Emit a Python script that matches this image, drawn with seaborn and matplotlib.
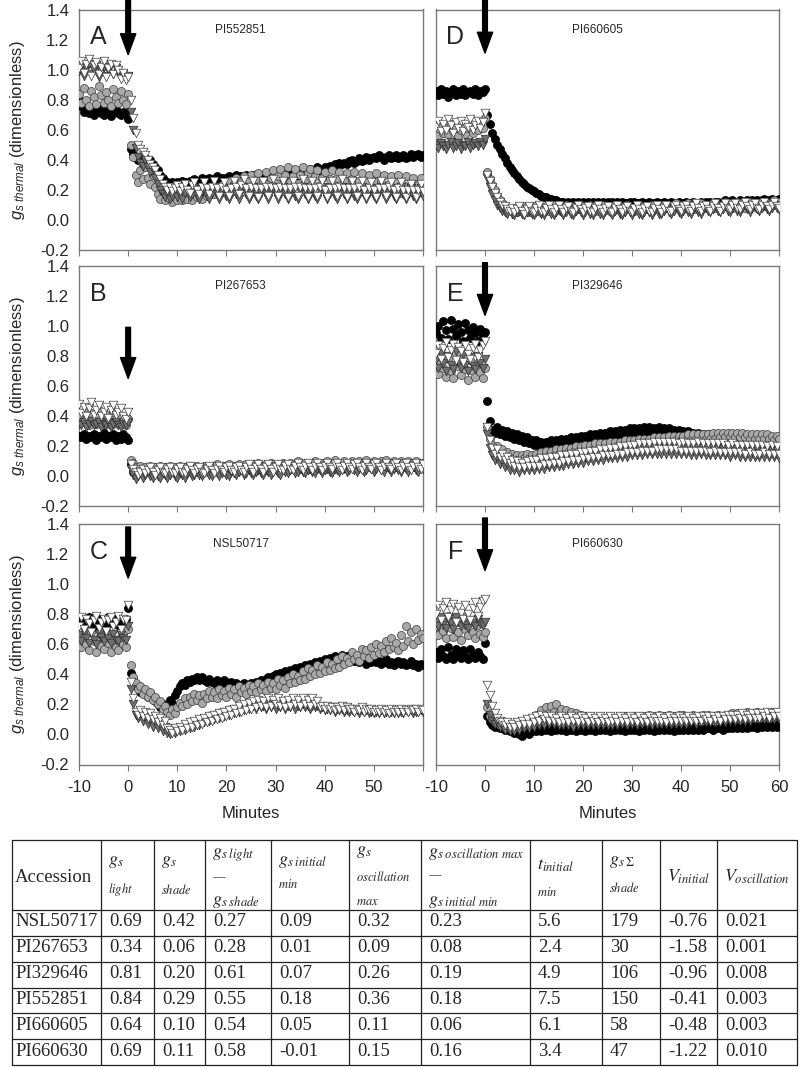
import numpy as np
import pandas as pd
import seaborn as sns
import matplotlib.pyplot as plt
from matplotlib import ticker

# Panels: A-C left column, D-F right column
LETTERS = ["A", "B", "C", "D", "E", "F"]
PANEL_ACC = ["PI552851", "PI267653", "NSL50717", "PI660605", "PI329646", "PI660630"]

# g_s thermal x100, read every 0.5 min from -10 to 60 min (shade at 0 min)
# black = black circles, gray = gray circles, dark = dark triangles, open = white triangles
A_BLACK = [80, 76, 72, 74, 71, 73, 70, 72, 74, 71,
           70, 73, 71, 69, 72, 74, 71, 70, 72, 71, 67,
           47, 44, 41, 40, 42, 39, 41, 38, 40, 37,
           35, 33, 30, 28, 26, 25, 24, 25, 24, 25,
           24, 26, 25, 24, 26, 25, 27, 25, 26, 28,
           26, 27, 28, 26, 27, 29, 27, 28, 27, 28,
           29, 27, 28, 30, 28, 29, 28, 30, 28, 29,
           30, 28, 29, 30, 29, 28, 30, 29, 28, 30,
           29, 31, 30, 29, 31, 30, 32, 31, 30, 32,
           33, 31, 32, 34, 32, 33, 35, 33, 34, 35,
           34, 36, 35, 37, 36, 38, 37, 38, 37, 39,
           40, 38, 39, 41, 39, 40, 42, 40, 41, 42,
           41, 43, 42, 40, 42, 43, 41, 42, 43, 41,
           42, 43, 41, 42, 44, 42, 43, 44, 42, 43]
A_GRAY = [84, 78, 88, 80, 76, 86, 82, 77, 89, 83,
          78, 85, 80, 76, 87, 82, 78, 86, 80, 77, 84,
          50, 42, 30, 25, 33, 27, 35, 28, 24, 30,
          22, 17, 14, 19, 13, 18, 14, 12, 17, 13,
          16, 13, 18, 14, 17, 13, 19, 15, 18, 14,
          20, 16, 19, 22, 17, 21, 18, 23, 19, 22,
          26, 20, 24, 28, 21, 25, 29, 22, 26, 30,
          23, 27, 31, 22, 26, 32, 24, 28, 33, 25,
          29, 34, 24, 30, 35, 25, 29, 34, 24, 30,
          35, 25, 31, 34, 24, 29, 33, 23, 28, 32,
          22, 27, 33, 23, 28, 32, 21, 26, 31, 22,
          27, 32, 21, 26, 31, 20, 25, 30, 21, 26,
          31, 20, 25, 30, 19, 24, 29, 19, 25, 30,
          18, 23, 29, 19, 24, 28, 17, 23, 28, 18]
A_DARK = [99, 103, 96, 101, 104, 97, 100, 103, 95, 99,
          102, 96, 100, 103, 97, 101, 98, 95, 97, 94, 96,
          72, 60, 48, 42, 38, 36, 40, 35, 32, 34,
          28, 24, 20, 17, 15, 18, 14, 16, 19, 15,
          17, 14, 18, 20, 15, 17, 21, 16, 14, 19,
          21, 16, 14, 18, 22, 17, 14, 18, 21, 16,
          14, 18, 22, 17, 14, 19, 22, 17, 14, 18,
          22, 16, 14, 18, 21, 17, 14, 19, 22, 17,
          14, 18, 22, 17, 14, 18, 21, 16, 14, 19,
          22, 17, 14, 18, 21, 16, 14, 19, 22, 17,
          14, 18, 21, 16, 14, 19, 22, 17, 14, 18,
          21, 16, 14, 18, 22, 17, 14, 18, 21, 16,
          14, 19, 22, 17, 14, 18, 21, 16, 14, 18,
          22, 17, 14, 18, 21, 16, 14, 18, 21, 16]
A_OPEN = [101, 106, 98, 104, 107, 96, 103, 105, 97, 102,
          106, 95, 101, 104, 97, 103, 100, 94, 98, 93, 95,
          80, 68, 58, 50, 47, 45, 43, 40, 37, 35,
          33, 30, 27, 24, 22, 20, 22, 19, 21, 23,
          19, 22, 24, 20, 18, 23, 25, 20, 17, 22,
          25, 21, 17, 22, 26, 21, 16, 22, 25, 20,
          16, 21, 26, 22, 17, 23, 27, 21, 16, 22,
          26, 21, 15, 21, 26, 22, 16, 22, 27, 21,
          16, 22, 26, 21, 15, 21, 26, 22, 16, 22,
          27, 21, 15, 21, 26, 21, 16, 22, 26, 20,
          15, 21, 26, 21, 16, 22, 27, 21, 15, 21,
          26, 21, 16, 22, 26, 20, 15, 21, 25, 20,
          15, 21, 26, 21, 16, 22, 25, 20, 15, 21,
          25, 20, 15, 20, 24, 20, 15, 20, 24, 19]

B_BLACK = [27, 26, 28, 25, 27, 26, 28, 24, 27, 26,
           29, 25, 27, 26, 28, 24, 27, 25, 28, 26, 24,
           8, 3, 1, 2, 4, 2, 3, 5, 3, 2,
           4, 3, 5, 3, 4, 6, 4, 3, 5, 4,
           5, 3, 4, 6, 4, 5, 3, 5, 6, 4,
           5, 4, 6, 4, 5, 6, 4, 5, 6, 4,
           5, 6, 4, 6, 5, 4, 6, 5, 7, 5,
           6, 4, 6, 7, 5, 6, 4, 6, 7, 5,
           6, 5, 7, 5, 6, 7, 5, 6, 7, 5,
           6, 7, 5, 7, 6, 5, 7, 6, 8, 6,
           7, 5, 7, 8, 6, 7, 5, 7, 8, 6,
           7, 6, 8, 6, 7, 8, 6, 7, 8, 6,
           7, 8, 6, 8, 7, 6, 8, 7, 8, 6,
           7, 8, 6, 7, 8, 6, 7, 8, 6, 7]
B_GRAY = [40, 36, 43, 38, 34, 42, 37, 35, 44, 39,
          36, 41, 37, 34, 43, 38, 35, 40, 37, 34, 38,
          11, 9, 6, 4, 7, 5, 6, 4, 7, 5,
          6, 4, 7, 5, 6, 4, 7, 5, 6, 5,
          7, 5, 6, 4, 7, 6, 5, 7, 6, 5,
          7, 6, 5, 7, 6, 8, 6, 5, 7, 6,
          8, 6, 7, 5, 8, 7, 6, 8, 7, 6,
          8, 7, 9, 7, 6, 8, 7, 9, 7, 6,
          8, 7, 9, 8, 6, 9, 7, 8, 10, 7,
          8, 9, 7, 9, 8, 10, 8, 7, 9, 8,
          10, 8, 9, 11, 8, 9, 8, 10, 9, 8,
          10, 8, 9, 10, 8, 9, 11, 9, 8, 10,
          9, 8, 10, 9, 11, 9, 8, 10, 9, 8,
          10, 9, 8, 10, 9, 8, 10, 9, 8, 9]
B_DARK = [35, 34, 36, 33, 35, 37, 34, 35, 36, 33,
          35, 34, 36, 33, 35, 36, 34, 33, 35, 34, 36,
          5, 1, -2, 0, 2, -1, 1, 3, 0, -1,
          2, 0, -1, 2, 1, -1, 1, 3, 0, -1,
          2, 1, -1, 2, 3, 0, 1, 3, 1, 0,
          2, 3, 1, 0, 3, 2, 0, 2, 3, 1,
          0, 3, 2, 1, 3, 4, 1, 2, 4, 2,
          1, 3, 4, 2, 1, 4, 3, 1, 3, 4,
          2, 1, 4, 3, 2, 4, 5, 2, 3, 5,
          3, 2, 4, 5, 3, 2, 5, 4, 2, 4,
          5, 3, 2, 5, 4, 3, 5, 6, 3, 4,
          6, 4, 3, 5, 6, 3, 4, 6, 5, 3,
          5, 6, 4, 3, 6, 5, 3, 5, 6, 4,
          3, 6, 5, 3, 5, 6, 4, 3, 6, 5]
B_OPEN = [48, 42, 46, 40, 45, 49, 41, 44, 47, 40,
          43, 46, 39, 44, 47, 41, 43, 45, 40, 38, 43,
          8, 5, 3, 1, 3, 5, 2, 4, 6, 3,
          1, 4, 6, 3, 2, 5, 6, 3, 2, 5,
          6, 3, 2, 5, 7, 4, 2, 5, 6, 3,
          2, 5, 7, 4, 2, 5, 7, 4, 3, 6,
          7, 4, 3, 6, 7, 4, 3, 6, 8, 5,
          3, 6, 8, 5, 3, 6, 8, 5, 3, 6,
          8, 5, 4, 7, 8, 5, 4, 7, 9, 6,
          4, 7, 9, 6, 4, 7, 9, 6, 4, 7,
          9, 6, 5, 8, 9, 6, 4, 7, 9, 6,
          5, 8, 9, 6, 4, 7, 9, 6, 5, 8,
          9, 6, 4, 7, 9, 6, 5, 8, 9, 6,
          4, 7, 9, 6, 4, 7, 9, 6, 5, 8]

C_BLACK = [75, 77, 73, 76, 78, 74, 76, 72, 77, 75,
           73, 76, 78, 74, 75, 77, 73, 76, 75, 77, 84,
           41, 37, 33, 31, 28, 30, 27, 25, 27, 24,
           22, 20, 18, 20, 17, 19, 23, 21, 26, 29,
           32, 34, 33, 36, 35, 37, 36, 38, 36, 38,
           36, 35, 37, 35, 34, 36, 35, 34, 36, 35,
           34, 35, 33, 34, 32, 33, 34, 33, 32, 34,
           33, 35, 34, 36, 35, 37, 38, 37, 39, 40,
           39, 41, 40, 42, 41, 43, 42, 44, 43, 45,
           44, 46, 45, 47, 46, 48, 47, 49, 48, 50,
           49, 51, 50, 52, 50, 51, 53, 51, 52, 50,
           51, 49, 50, 48, 50, 49, 47, 49, 48, 50,
           48, 49, 47, 48, 50, 47, 48, 46, 48, 49,
           47, 48, 46, 47, 49, 46, 47, 45, 47, 46]
C_GRAY = [63, 58, 66, 60, 56, 68, 62, 55, 64, 59,
          57, 67, 61, 55, 63, 58, 56, 65, 60, 58, 70,
          46, 38, 34, 30, 32, 27, 30, 25, 28, 23,
          25, 20, 22, 17, 19, 15, 13, 17, 14, 18,
          21, 19, 24, 20, 25, 22, 27, 23, 26, 21,
          27, 24, 29, 25, 28, 24, 30, 26, 29, 25,
          31, 27, 30, 25, 32, 28, 31, 27, 33, 29,
          32, 28, 34, 30, 33, 29, 35, 31, 34, 30,
          37, 33, 36, 31, 38, 34, 40, 35, 39, 36,
          42, 37, 44, 39, 43, 40, 46, 41, 45, 42,
          48, 43, 47, 44, 50, 45, 52, 47, 51, 48,
          55, 50, 53, 49, 57, 52, 56, 51, 58, 53,
          60, 54, 59, 55, 62, 57, 64, 58, 61, 56,
          66, 59, 72, 62, 68, 60, 70, 63, 67, 64]
C_DARK = [66, 62, 69, 64, 61, 68, 63, 60, 67, 65,
          62, 68, 64, 61, 67, 63, 62, 66, 64, 63, 72,
          30, 20, 13, 11, 14, 9, 12, 7, 10, 5,
          8, 4, 6, 2, 5, 1, 0, 2, 1, 3,
          2, 4, 3, 6, 4, 7, 5, 8, 6, 9,
          8, 10, 9, 12, 10, 13, 11, 14, 12, 15,
          13, 16, 14, 17, 15, 18, 16, 19, 17, 18,
          19, 17, 20, 18, 19, 17, 20, 18, 20, 17,
          19, 18, 20, 17, 19, 18, 20, 17, 19, 18,
          20, 18, 19, 17, 19, 18, 19, 17, 18, 16,
          17, 16, 18, 15, 17, 16, 17, 15, 16, 15,
          16, 15, 16, 14, 16, 15, 16, 14, 15, 14,
          15, 14, 16, 14, 15, 14, 15, 14, 16, 14,
          15, 14, 16, 15, 16, 14, 15, 15, 16, 15]
C_OPEN = [72, 78, 70, 77, 74, 68, 76, 79, 71, 75,
          77, 69, 76, 78, 72, 75, 79, 70, 77, 76, 86,
          35, 24, 15, 13, 16, 12, 15, 11, 14, 10,
          12, 8, 11, 6, 9, 4, 3, 1, 4, 2,
          5, 3, 7, 4, 8, 5, 9, 6, 10, 7,
          11, 8, 12, 9, 13, 10, 14, 11, 15, 12,
          16, 13, 17, 14, 19, 15, 20, 16, 21, 17,
          22, 18, 23, 19, 22, 18, 24, 19, 23, 20,
          24, 19, 22, 18, 23, 19, 24, 20, 23, 19,
          24, 20, 23, 19, 24, 20, 22, 18, 19, 17,
          19, 17, 18, 16, 18, 17, 19, 16, 18, 17,
          17, 15, 17, 16, 18, 15, 17, 16, 17, 15,
          16, 15, 17, 15, 16, 14, 17, 15, 16, 15,
          17, 15, 16, 15, 17, 16, 17, 15, 17, 16]

D_BLACK = [86, 83, 87, 84, 86, 82, 85, 87, 83, 86,
           84, 87, 83, 85, 86, 84, 87, 83, 86, 85, 87,
           70, 64, 58, 54, 50, 47, 44, 41, 38, 35,
           33, 31, 29, 27, 25, 24, 22, 21, 20, 19,
           18, 17, 16, 15, 15, 14, 14, 13, 13, 12,
           12, 12, 11, 12, 11, 12, 11, 12, 11, 12,
           11, 12, 11, 12, 11, 12, 11, 12, 11, 12,
           11, 12, 11, 12, 11, 12, 11, 11, 12, 11,
           12, 11, 11, 12, 10, 11, 12, 10, 11, 12,
           10, 11, 12, 10, 11, 12, 10, 11, 12, 10,
           11, 12, 10, 11, 12, 10, 11, 12, 11, 12,
           11, 12, 11, 12, 12, 11, 12, 13, 11, 12,
           13, 12, 11, 13, 12, 11, 13, 12, 13, 12,
           13, 12, 13, 14, 12, 13, 14, 12, 13, 14]
D_GRAY = [60, 56, 63, 58, 61, 57, 64, 59, 62, 56,
          60, 63, 57, 61, 64, 58, 62, 60, 65, 61, 68,
          32, 27, 23, 20, 16, 13, 11, 9, 8, 7,
          6, 8, 5, 7, 9, 6, 8, 5, 7, 9,
          6, 8, 5, 7, 9, 6, 8, 10, 7, 9,
          6, 8, 10, 7, 9, 6, 8, 10, 7, 9,
          7, 9, 10, 7, 9, 6, 8, 10, 7, 9,
          6, 8, 10, 7, 9, 7, 9, 10, 7, 8,
          6, 9, 10, 7, 9, 7, 8, 10, 7, 9,
          7, 9, 10, 8, 9, 7, 9, 11, 8, 10,
          7, 9, 11, 8, 10, 7, 9, 11, 8, 10,
          8, 10, 11, 8, 10, 8, 10, 12, 9, 11,
          8, 10, 12, 9, 11, 8, 10, 12, 9, 11,
          8, 10, 12, 9, 11, 9, 11, 13, 10, 12]
D_DARK = [50, 48, 51, 49, 47, 50, 52, 48, 49, 51,
          47, 50, 49, 52, 48, 50, 51, 49, 52, 50, 54,
          28, 22, 17, 13, 10, 8, 6, 5, 4, 6,
          4, 3, 5, 6, 4, 3, 5, 6, 4, 3,
          5, 7, 4, 3, 6, 7, 4, 3, 5, 7,
          5, 3, 5, 7, 4, 3, 6, 7, 5, 3,
          5, 7, 4, 3, 6, 7, 4, 3, 6, 7,
          5, 3, 6, 7, 4, 3, 5, 7, 5, 3,
          6, 7, 4, 3, 5, 7, 5, 3, 6, 7,
          4, 4, 6, 8, 5, 4, 6, 8, 5, 4,
          6, 8, 5, 4, 7, 8, 5, 4, 7, 8,
          6, 5, 7, 9, 6, 5, 7, 9, 6, 5,
          8, 9, 6, 5, 8, 10, 7, 5, 8, 9,
          7, 6, 8, 10, 7, 6, 8, 10, 8, 7]
D_OPEN = [62, 66, 59, 64, 60, 67, 63, 58, 65, 61,
          66, 59, 64, 62, 67, 60, 63, 66, 61, 65, 71,
          30, 26, 22, 18, 15, 12, 10, 9, 7, 6,
          8, 5, 7, 9, 6, 4, 7, 9, 6, 5,
          8, 10, 6, 5, 8, 10, 7, 5, 8, 10,
          7, 5, 8, 9, 6, 5, 8, 10, 7, 5,
          8, 9, 6, 5, 8, 10, 7, 5, 8, 9,
          6, 5, 8, 10, 7, 5, 8, 9, 6, 5,
          8, 10, 7, 5, 8, 9, 6, 5, 8, 10,
          7, 5, 8, 10, 6, 6, 9, 10, 7, 6,
          9, 10, 7, 6, 9, 11, 8, 6, 9, 10,
          7, 6, 9, 11, 8, 6, 9, 11, 8, 7,
          10, 11, 8, 7, 10, 12, 9, 7, 10, 11,
          8, 7, 10, 12, 9, 7, 10, 12, 9, 8]

E_BLACK = [95, 100, 92, 103, 97, 91, 104, 98, 93, 101,
           96, 90, 102, 97, 92, 99, 95, 90, 98, 94, 96,
           50, 37, 31, 29, 33, 28, 31, 27, 30, 26,
           29, 25, 28, 24, 27, 23, 26, 22, 24, 21,
           24, 20, 23, 19, 23, 20, 24, 20, 24, 21,
           25, 21, 25, 22, 26, 22, 26, 23, 27, 23,
           27, 24, 28, 24, 28, 25, 29, 25, 29, 26,
           30, 26, 30, 27, 31, 27, 31, 27, 32, 28,
           32, 28, 32, 28, 33, 29, 33, 29, 32, 28,
           33, 28, 32, 28, 32, 27, 31, 27, 31, 26,
           30, 26, 30, 25, 29, 25, 29, 24, 28, 24,
           28, 23, 27, 23, 27, 22, 26, 22, 26, 21,
           25, 21, 25, 20, 24, 20, 24, 20, 23, 19,
           23, 19, 23, 19, 22, 18, 22, 19, 22, 18]
E_GRAY = [75, 68, 80, 72, 66, 78, 70, 65, 82, 73,
          67, 79, 71, 64, 77, 70, 66, 75, 69, 65, 72,
          33, 25, 21, 18, 20, 16, 18, 14, 16, 13,
          15, 12, 14, 11, 14, 12, 15, 12, 14, 12,
          15, 13, 16, 13, 17, 14, 17, 14, 18, 15,
          18, 15, 19, 16, 19, 16, 20, 17, 20, 17,
          21, 17, 21, 18, 22, 18, 22, 19, 22, 19,
          23, 19, 23, 20, 23, 20, 24, 20, 24, 21,
          24, 21, 25, 21, 25, 22, 25, 22, 26, 22,
          26, 23, 26, 23, 27, 23, 27, 24, 27, 24,
          27, 24, 28, 24, 28, 25, 28, 25, 28, 25,
          28, 25, 29, 25, 29, 26, 29, 26, 29, 26,
          29, 26, 29, 26, 29, 26, 28, 25, 28, 25,
          28, 25, 28, 25, 28, 25, 27, 24, 27, 25]
E_DARK = [78, 72, 82, 75, 70, 80, 74, 71, 83, 76,
          72, 81, 74, 70, 79, 73, 71, 80, 75, 72, 78,
          28, 19, 14, 11, 13, 8, 10, 6, 8, 4,
          7, 4, 6, 3, 7, 4, 8, 4, 7, 4,
          8, 5, 9, 5, 9, 6, 10, 6, 10, 7,
          11, 7, 11, 8, 12, 8, 12, 9, 13, 9,
          13, 10, 14, 10, 14, 11, 15, 11, 15, 12,
          16, 12, 16, 12, 17, 13, 17, 13, 18, 14,
          18, 14, 18, 14, 19, 15, 19, 15, 19, 15,
          19, 15, 20, 15, 20, 15, 19, 15, 19, 15,
          19, 15, 19, 14, 19, 14, 19, 15, 19, 14,
          19, 14, 19, 14, 18, 14, 18, 14, 18, 13,
          18, 14, 18, 13, 18, 13, 18, 13, 17, 13,
          18, 13, 17, 13, 17, 13, 17, 13, 17, 12]
E_OPEN = [82, 87, 78, 85, 89, 79, 84, 88, 77, 86,
          83, 76, 87, 81, 78, 85, 88, 79, 84, 87, 90,
          33, 24, 19, 15, 18, 13, 15, 11, 13, 9,
          11, 7, 10, 6, 9, 6, 10, 7, 11, 7,
          11, 7, 12, 8, 12, 8, 13, 9, 13, 9,
          14, 10, 14, 10, 15, 11, 15, 11, 16, 12,
          16, 12, 17, 13, 17, 13, 18, 14, 18, 14,
          19, 14, 19, 15, 20, 15, 20, 16, 21, 16,
          21, 16, 22, 17, 22, 17, 22, 17, 23, 18,
          23, 18, 23, 18, 23, 18, 23, 18, 22, 17,
          23, 17, 22, 17, 22, 17, 23, 17, 22, 17,
          22, 16, 22, 17, 22, 16, 22, 16, 21, 16,
          22, 16, 21, 16, 21, 15, 21, 16, 21, 15,
          21, 15, 21, 16, 20, 15, 21, 15, 20, 15]

F_BLACK = [55, 51, 57, 52, 50, 58, 53, 50, 57, 54,
           51, 56, 52, 50, 57, 53, 51, 55, 52, 50, 61,
           12, 8, 6, 5, 7, 4, 5, 3, 4, 2,
           3, 1, 2, 0, -1, 1, 2, 0, 2, 4,
           2, 4, 2, 5, 3, 5, 2, 4, 3, 5,
           3, 5, 2, 4, 3, 5, 2, 4, 3, 5,
           2, 4, 3, 5, 2, 4, 3, 5, 3, 5,
           2, 4, 3, 5, 3, 5, 2, 4, 3, 5,
           3, 5, 2, 4, 3, 5, 3, 5, 2, 4,
           3, 5, 3, 5, 3, 5, 2, 4, 3, 5,
           3, 5, 3, 6, 3, 5, 3, 5, 3, 6,
           4, 6, 3, 5, 4, 6, 3, 5, 4, 6,
           4, 7, 4, 6, 4, 7, 4, 6, 5, 7,
           4, 7, 5, 7, 5, 8, 5, 7, 5, 7]
F_GRAY = [72, 66, 77, 69, 64, 79, 71, 65, 76, 68,
          63, 78, 70, 66, 75, 68, 64, 73, 67, 65, 68,
          18, 12, 10, 8, 9, 6, 8, 5, 7, 4,
          6, 4, 7, 5, 8, 6, 9, 7, 10, 8,
          13, 10, 16, 12, 18, 14, 19, 15, 20, 14,
          17, 12, 16, 11, 15, 10, 14, 9, 13, 9,
          12, 8, 12, 8, 11, 8, 12, 8, 11, 8,
          12, 8, 11, 8, 12, 9, 12, 8, 11, 9,
          12, 9, 12, 8, 12, 9, 13, 9, 12, 9,
          13, 9, 12, 9, 13, 9, 12, 9, 13, 10,
          13, 9, 12, 10, 13, 10, 12, 9, 13, 10,
          13, 10, 12, 9, 13, 10, 12, 10, 13, 11,
          14, 11, 14, 10, 14, 11, 15, 11, 14, 11,
          15, 11, 14, 12, 15, 11, 15, 12, 15, 12]
F_DARK = [75, 72, 78, 73, 71, 77, 74, 70, 78, 75,
          72, 77, 73, 71, 76, 74, 72, 77, 74, 73, 75,
          20, 13, 9, 7, 8, 5, 6, 3, 5, 2,
          4, 2, 5, 3, 6, 4, 6, 4, 7, 5,
          8, 6, 9, 6, 10, 7, 10, 7, 9, 6,
          9, 6, 9, 6, 8, 5, 8, 6, 9, 6,
          8, 6, 9, 6, 8, 6, 9, 6, 8, 6,
          9, 6, 8, 6, 9, 7, 8, 6, 9, 7,
          9, 6, 9, 7, 9, 7, 9, 6, 9, 7,
          9, 7, 10, 7, 9, 7, 10, 7, 9, 7,
          10, 7, 10, 8, 10, 7, 10, 8, 10, 8,
          10, 8, 11, 8, 10, 8, 11, 8, 11, 9,
          11, 9, 12, 9, 12, 9, 12, 9, 12, 10,
          12, 10, 13, 10, 12, 10, 13, 10, 12, 10]
F_OPEN = [80, 86, 76, 84, 88, 78, 83, 87, 75, 85,
          81, 77, 86, 80, 76, 84, 88, 79, 85, 89, 90,
          33, 26, 19, 14, 11, 9, 8, 6, 8, 5,
          7, 5, 8, 6, 9, 7, 10, 7, 11, 8,
          12, 9, 13, 10, 12, 9, 12, 9, 11, 8,
          12, 9, 11, 8, 12, 9, 11, 8, 12, 9,
          11, 8, 12, 9, 11, 8, 12, 9, 11, 8,
          12, 9, 11, 8, 12, 9, 11, 8, 12, 9,
          11, 8, 12, 9, 11, 8, 12, 9, 11, 9,
          12, 9, 11, 8, 12, 9, 11, 9, 12, 9,
          11, 9, 12, 9, 11, 9, 12, 9, 12, 10,
          12, 9, 12, 10, 12, 9, 12, 10, 13, 10,
          13, 10, 13, 11, 14, 10, 13, 11, 14, 11,
          14, 11, 14, 12, 15, 11, 14, 12, 15, 12]

# shade arrow at 0 min: start and tip (g_s units)
ARROW_TOP = [1.46, 0.99, 1.38, 1.46, 1.42, 1.44]
ARROW_TIP = [1.10, 0.65, 1.04, 1.11, 1.07, 1.09]

# table values
ACCESSIONS = ["NSL50717", "PI267653", "PI329646", "PI552851", "PI660605", "PI660630"]
GS_LIGHT = [0.69, 0.34, 0.81, 0.84, 0.64, 0.69]
GS_SHADE = [0.42, 0.06, 0.20, 0.29, 0.10, 0.11]
GS_LIGHT_MINUS_SHADE = [0.27, 0.28, 0.61, 0.55, 0.54, 0.58]
GS_INITIAL_MIN = [0.09, 0.01, 0.07, 0.18, 0.05, -0.01]
GS_OSC_MAX = [0.32, 0.09, 0.26, 0.36, 0.11, 0.15]
GS_OSC_MINUS_INIT = [0.23, 0.08, 0.19, 0.18, 0.06, 0.16]
T_INITIAL_MIN = [5.6, 2.4, 4.9, 7.5, 6.1, 3.4]
GS_SUM_SHADE = [179, 30, 106, 150, 58, 47]
V_INITIAL = [-0.76, -1.58, -0.96, -0.41, -0.48, -1.22]
V_OSCILLATION = [0.021, 0.001, 0.008, 0.003, 0.003, 0.010]

PANEL_SERIES = {
    "A": {"black": A_BLACK, "gray": A_GRAY, "dark": A_DARK, "open": A_OPEN},
    "B": {"black": B_BLACK, "gray": B_GRAY, "dark": B_DARK, "open": B_OPEN},
    "C": {"black": C_BLACK, "gray": C_GRAY, "dark": C_DARK, "open": C_OPEN},
    "D": {"black": D_BLACK, "gray": D_GRAY, "dark": D_DARK, "open": D_OPEN},
    "E": {"black": E_BLACK, "gray": E_GRAY, "dark": E_DARK, "open": E_OPEN},
    "F": {"black": F_BLACK, "gray": F_GRAY, "dark": F_DARK, "open": F_OPEN},
}

STYLES = {
    "black": dict(marker="o", color="black", edgecolor="black", s=34, linewidth=0.5),
    "gray": dict(marker="o", color="#a8a8a8", edgecolor="#3c3c3c", s=34, linewidth=0.5),
    "dark": dict(marker="v", color="#707070", edgecolor="#2a2a2a", s=38, linewidth=0.5),
    "open": dict(marker="v", color="white", edgecolor="#3c3c3c", s=38, linewidth=0.5),
}

rows = []
for letter, series in PANEL_SERIES.items():
    for name, vals in series.items():
        minutes = -10 + 0.5 * np.arange(len(vals))
        rows.append(pd.DataFrame({"panel": letter, "series": name,
                                  "minutes": minutes, "gs": np.array(vals) / 100}))
df = pd.concat(rows, ignore_index=True)

sns.set_theme(style="white")
plt.rcParams["font.family"] = ["Liberation Sans", "DejaVu Sans"]
plt.rcParams["axes.unicode_minus"] = False
plt.rcParams["mathtext.fontset"] = "custom"
plt.rcParams["mathtext.rm"] = "Liberation Sans"
plt.rcParams["mathtext.it"] = "Liberation Sans:italic"

W, H = 800, 1067
fig = plt.figure(figsize=(W / 100, H / 100), dpi=100)

col_left = [79, 436]
col_width = [344, 343]
row_top = [9.5, 265.7, 524]
ax_h = 240.5
spine_col = "#7a7a7a"

for i, letter in enumerate(LETTERS):
    col, row = divmod(i, 3)
    ax = fig.add_axes([col_left[col] / W, 1 - (row_top[row] + ax_h) / H,
                       col_width[col] / W, ax_h / H])
    sub = df[df["panel"] == letter]
    for name in ["black", "gray", "dark", "open"]:
        sns.scatterplot(data=sub[sub["series"] == name], x="minutes", y="gs",
                        ax=ax, legend=False, zorder=3, **STYLES[name])

    ax.set_xlim(-10, 60)
    ax.set_ylim(-0.2, 1.4)
    ax.set_xticks(range(-10, 61, 10))
    ax.set_yticks(np.arange(-0.2, 1.41, 0.2))
    for sp in ax.spines.values():
        sp.set_color(spine_col)
        sp.set_linewidth(1.0)
    ax.tick_params(axis="x", direction="out", length=4, width=0.8, color=spine_col,
                   labelsize=12, pad=7, bottom=True)
    ax.tick_params(axis="y", length=0, labelsize=12, pad=7)
    ax.yaxis.set_major_formatter(ticker.FuncFormatter(lambda v, p: f"{v:.1f}"))

    if row == 2:
        last = 60 if col == 1 else 50
        ax.xaxis.set_major_formatter(ticker.FuncFormatter(
            lambda v, p, last=last: f"{v:.0f}" if v <= last else ""))
        ax.set_xlabel("Minutes", fontsize=12, labelpad=8)
    else:
        ax.tick_params(axis="x", labelbottom=False)
        ax.set_xlabel("")

    if col == 0:
        ax.set_ylabel(r"$g_{s\ thermal}$ (dimensionless)", fontsize=12)
        ax.yaxis.set_label_coords(-0.152, 0.5)
    else:
        ax.tick_params(axis="y", labelleft=False)
        ax.set_ylabel("")

    ax.text(0.056, 0.884, letter, transform=ax.transAxes, fontsize=18,
            ha="center", va="center")
    ax.text(0.47, 0.915, PANEL_ACC[i], transform=ax.transAxes, fontsize=8.5,
            ha="center", va="center")
    ax.annotate("", xy=(0, ARROW_TIP[i]), xytext=(0, ARROW_TOP[i]),
                arrowprops=dict(facecolor="black", edgecolor="black", width=3.4,
                                headwidth=11, headlength=15, shrink=0),
                annotation_clip=False, zorder=5)

# ---- table ----
x0, x1, y0, y1 = 12, 797, 840, 1065
tab = fig.add_axes([x0 / W, 1 - y1 / H, (x1 - x0) / W, (y1 - y0) / H])
tab.set_xlim(x0, x1)
tab.set_ylim(y1, y0)
tab.set_axis_off()

col_edges = [12, 101, 154, 205, 271, 349, 421, 530, 602, 660, 717, 797]
header_bottom = 910
row_h = (y1 - header_bottom) / len(ACCESSIONS)
row_edges = [y0, header_bottom] + [header_bottom + row_h * (k + 1) for k in range(len(ACCESSIONS))]

for xe in col_edges:
    tab.plot([xe, xe], [y0, y1], color="#222222", lw=0.9, clip_on=False)
for ye in row_edges:
    tab.plot([x0, x1], [ye, ye], color="#222222", lw=0.9, clip_on=False)

serif = ["Liberation Serif", "DejaVu Serif"]
big, small = 13, 9
# header lines per column: (text, y, size)
headers = [
    [("Accession", 877, 13.5)],
    [(r"$g_s$", 862, big), (r"$light$", 890, small)],
    [(r"$g_s$", 862, big), (r"$shade$", 890, small)],
    [(r"$g_{s\ light}$", 855, big), ("—", 877, small), (r"$g_{s\ shade}$", 901, big)],
    [(r"$g_{s\ initial}$", 862, big), (r"$min$", 884, small)],
    [(r"$g_s$", 852, big), (r"$oscillation$", 877, small), (r"$max$", 902, small)],
    [(r"$g_{s\ oscillation\ max}$", 853, big), ("—", 875, small),
     (r"$g_{s\ initial\ min}$", 901, big)],
    [(r"$t_{initial}$", 866, big), (r"$min$", 892, small)],
    [(r"$g_{s\ \Sigma}$", 862, big), (r"$shade$", 888, small)],
    [(r"$V_{initial}$", 877, big)],
    [(r"$V_{oscillation}$", 877, big)],
]
for c, lines in enumerate(headers):
    pad = 3 if c == 0 else 7
    for text, yy, size in lines:
        tab.text(col_edges[c] + pad, yy, text, fontsize=size, family=serif,
                 math_fontfamily="stix", ha="left", va="center")

columns = [
    (ACCESSIONS, "{}"), (GS_LIGHT, "{:.2f}"), (GS_SHADE, "{:.2f}"),
    (GS_LIGHT_MINUS_SHADE, "{:.2f}"), (GS_INITIAL_MIN, "{:.2f}"), (GS_OSC_MAX, "{:.2f}"),
    (GS_OSC_MINUS_INIT, "{:.2f}"), (T_INITIAL_MIN, "{:.1f}"), (GS_SUM_SHADE, "{:d}"),
    (V_INITIAL, "{:.2f}"), (V_OSCILLATION, "{:.3f}"),
]
for c, (vals, fmt) in enumerate(columns):
    pad = 3 if c == 0 else 8
    for r, v in enumerate(vals):
        yc = header_bottom + row_h * (r + 0.5) - 1
        tab.text(col_edges[c] + pad, yc, fmt.format(v), fontsize=13.5, family=serif,
                 ha="left", va="center")

fig.savefig("out.png", dpi=100)
